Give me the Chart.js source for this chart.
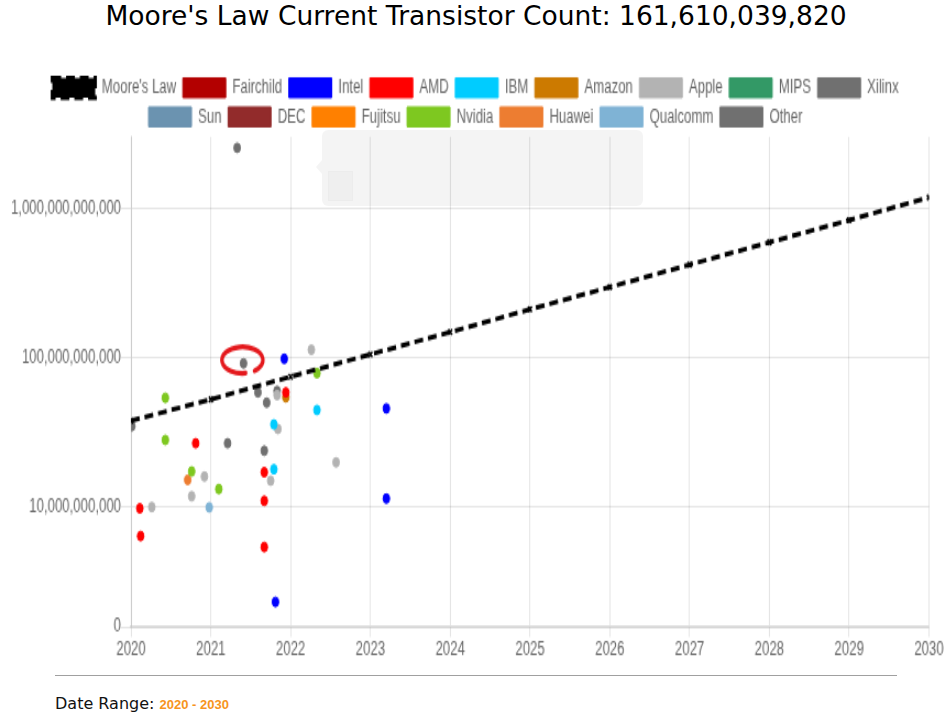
<!DOCTYPE html>
<html>
<head>
<meta charset="utf-8">
<script src="https://cdn.jsdelivr.net/npm/chart.js@4.4.1/dist/chart.umd.min.js"></script>
<style>
  html, body { margin:0; padding:0; background:#fff; width:952px; height:723px; overflow:hidden; }
  body { position:relative; }
  #title { position:absolute; left:0; top:0; width:952px; text-align:center; font-family:'DejaVu Sans', sans-serif; font-size:26.5px; line-height:32px; color:#000; white-space:nowrap; }
  #wrap { position:absolute; left:0; top:60px; width:865px; height:386px; transform:scale(1.1,1.57); transform-origin:0 0; }
  #tip { position:absolute; left:322px; top:130px; width:321px; height:76px; background:rgba(0,0,0,0.045); border-radius:6px; }
  #tip:before { content:''; position:absolute; left:-6px; top:30px; border-top:7px solid transparent; border-bottom:7px solid transparent; border-right:6px solid rgba(0,0,0,0.045); }
  #tipbox { position:absolute; left:6px; top:41px; width:23px; height:28px; background:rgba(0,0,0,0.025); border:1px solid rgba(0,0,0,0.015); }
  #rule { position:absolute; left:55px; top:675px; width:842px; height:0; border-top:1px solid #a0a0a0; }
  #range { position:absolute; left:55px; top:694px; font-family:'DejaVu Sans', sans-serif; font-size:16px; line-height:20px; color:#111; white-space:nowrap; }
  #range b { font-family:'Liberation Sans', Arial, sans-serif; font-size:13px; font-weight:bold; color:#f7941d; margin-left:0; }
</style>
</head>
<body>
<div id="title">Moore's Law Current Transistor Count: 161,610,039,820</div>
<div id="wrap"><canvas id="c"></canvas></div>
<div id="tip"><div id="tipbox"></div></div>
<div id="rule"></div>
<div id="range">Date Range: <b>2020 - 2030</b></div>
<script>
// ---------- data ----------
const xTickYears = [2020, 2021, 2022, 2023, 2024, 2025, 2026, 2027, 2028, 2029, 2030];
const yTickValues = [1e10, 1e11, 1e12];
const yZeroLabel = '0';

const mooreYears  = [2020, 2021, 2022, 2023, 2024, 2025, 2026, 2027, 2028, 2029, 2030];
const mooreCounts = [3.78e10, 5.25e10, 7.45e10, 1.05e11, 1.48e11, 2.10e11, 2.96e11, 4.18e11, 5.90e11, 8.30e11, 1.18e12];

const companies = ['Fairchild','Intel','AMD','IBM','Amazon','Apple','MIPS','Xilinx','Sun','DEC','Fujitsu','Nvidia','Huawei','Qualcomm','Other'];
const companyColors = ['#b30000','#0000ff','#ff0000','#00ccff','#cc7a00','#b3b3b3','#339966','#707070','#6b93b0','#922b2b','#ff8000','#7ec820','#ed7d31','#7fb3d5','#707070'];

const fairchild = [];
const intel  = [[2021.92, 9.8e10], [2023.20, 4.57e10], [2023.20, 1.14e10], [2021.81, 2.32e9]];
const amd    = [[2021.94, 5.85e10], [2020.81, 2.67e10], [2021.67, 1.71e10], [2021.67, 1.10e10], [2020.11, 9.8e9], [2020.12, 6.4e9], [2021.67, 5.4e9]];
const ibm    = [[2022.33, 4.46e10], [2021.79, 3.57e10], [2021.79, 1.79e10]];
const amazon = [[2021.94, 5.42e10]];
const apple  = [[2022.26, 1.127e11], [2021.83, 5.61e10], [2021.84, 3.33e10], [2022.57, 1.99e10], [2020.92, 1.6e10], [2021.75, 1.5e10], [2020.76, 1.18e10], [2020.26, 1.0e10]];
const mips   = [];
const xilinx = [];
const sun    = [];
const dec    = [];
const fujitsu = [];
const nvidia = [[2022.33, 7.87e10], [2020.43, 5.38e10], [2020.43, 2.81e10], [2020.76, 1.73e10], [2021.10, 1.32e10]];
const huawei = [[2020.71, 1.52e10]];
const qualcomm = [[2020.98, 9.95e9]];
const other  = [[2021.33, 2.53e12], [2021.41, 9.14e10], [2020.01, 3.48e10], [2021.59, 5.85e10], [2021.83, 5.97e10], [2021.70, 4.99e10], [2021.21, 2.67e10], [2021.67, 2.38e10]];
const companyPoints = [fairchild, intel, amd, ibm, amazon, apple, mips, xilinx, sun, dec, fujitsu, nvidia, huawei, qualcomm, other];

const circledCompany = 'Other';
const circledIndex = 1;

// ---------- chart ----------
const yMin = 1.575e9, yMax = 3e12;
Chart.defaults.font.family = "'Liberation Sans', Arial, Helvetica, sans-serif";
Chart.defaults.font.size = 12;
Chart.defaults.color = '#666';

const datasets = [{
  label: "Moore's Law",
  data: mooreYears.map((x, i) => ({ x: x, y: mooreCounts[i] })),
  showLine: true,
  borderColor: '#000',
  backgroundColor: '#000',
  borderWidth: 3,
  borderDash: [8, 4.5],
  pointStyle: 'crossRot',
  pointRadius: 2.5,
  pointBorderWidth: 1.5,
  pointBackgroundColor: '#000',
  pointBorderColor: '#000',
  fill: false,
  tension: 0
}].concat(companies.map((name, i) => ({
  label: name,
  data: companyPoints[i].map(p => ({ x: p[0], y: p[1] })),
  backgroundColor: companyColors[i],
  borderColor: companyColors[i],
  borderWidth: 1,
  pointRadius: 3,
  showLine: false
})));

const circlePlugin = {
  id: 'circleMark',
  afterDatasetsDraw(chart) {
    const di = 1 + companies.indexOf(circledCompany);
    const el = chart.getDatasetMeta(di).data[circledIndex];
    if (!el) return;
    const ctx = chart.ctx;
    ctx.save();
    ctx.strokeStyle = '#e4181c';
    ctx.lineWidth = 3.2;
    ctx.lineCap = 'round';
    ctx.beginPath();
    ctx.ellipse(el.x - 1, el.y - 2.1, 18.6, 8.4, 0, 0.45 * Math.PI, 2.3 * Math.PI);
    ctx.stroke();
    ctx.restore();
  }
};

const legendShift = {
  id: 'legendShift',
  afterLayout(chart) {
    if (chart.legend) { chart.legend.left += 5; chart.legend.right += 5; }
  }
};

new Chart(document.getElementById('c'), {
  type: 'scatter',
  data: { datasets: datasets },
  plugins: [circlePlugin, legendShift],
  options: {
    responsive: true,
    maintainAspectRatio: false,
    animation: false,
    devicePixelRatio: 1,
    layout: { padding: { left: 10, right: 20.5, top: 5.46, bottom: 4.85 } },
    plugins: {
      legend: {
        position: 'top',
        maxHeight: 43.4,
        labels: { boxWidth: 39, boxHeight: 12.5, padding: 6, color: '#666', font: { size: 12 } }
      },
      tooltip: { enabled: false }
    },
    scales: {
      x: {
        type: 'linear',
        min: xTickYears[0],
        max: xTickYears[xTickYears.length - 1],
        afterBuildTicks: (scale) => { scale.ticks = xTickYears.map(v => ({ value: v })); },
        afterFit: (scale) => { scale.height = 20; },
        ticks: { autoSkip: false, maxRotation: 0, padding: 0.5, color: '#666', callback: (v) => String(v) },
        grid: { color: 'rgba(0,0,0,0.1)', tickLength: 6.4 },
        border: { color: 'rgba(0,0,0,0.13)', width: 1.4 }
      },
      y: {
        type: 'logarithmic',
        min: yMin,
        max: yMax,
        afterBuildTicks: (scale) => { scale.ticks = [yMin].concat(yTickValues).map(v => ({ value: v })); },
        afterFit: (scale) => { scale.width = 109.1; },
        ticks: {
          autoSkip: false, padding: 0, color: '#666',
          callback: (v) => v === yMin ? yZeroLabel : Number(v).toLocaleString('en-US')
        },
        grid: { color: 'rgba(0,0,0,0.1)', tickLength: 9.1 },
        border: { color: 'rgba(0,0,0,0.1)' }
      }
    }
  }
});
</script>
</body>
</html>
